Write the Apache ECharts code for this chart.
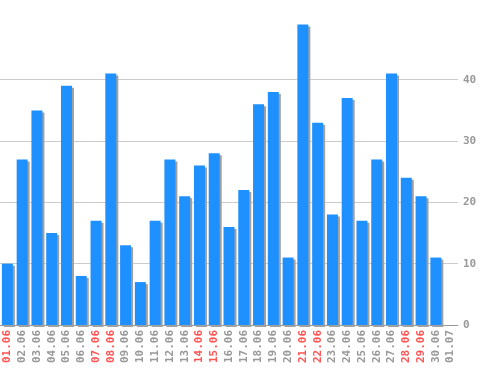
<!DOCTYPE html>
<html><head><meta charset="utf-8">
<script src="https://cdn.jsdelivr.net/npm/echarts@6/dist/echarts.min.js"></script>
<style>html,body{margin:0;padding:0;background:#fff}#c{width:498px;height:370px}</style>
</head><body><div id="c"></div>
<script>
var categories = ["01.06","02.06","03.06","04.06","05.06","06.06","07.06","08.06","09.06","10.06","11.06","12.06","13.06","14.06","15.06","16.06","17.06","18.06","19.06","20.06","21.06","22.06","23.06","24.06","25.06","26.06","27.06","28.06","29.06","30.06","01.07"];
var values = [10,27,35,15,39,8,17,41,13,7,17,27,21,26,28,16,22,36,38,11,49,33,18,37,17,27,41,24,21,11,null];
var weekendDays = ["01.06","07.06","08.06","14.06","15.06","21.06","22.06","28.06","29.06"];
var yTicks = [0,10,20,30,40];

var chart = echarts.init(document.getElementById('c'), null, {renderer:'canvas'});
chart.setOption({
  animation:false,
  backgroundColor:'#ffffff',
  grid:{left:-1,right:40,top:0,bottom:45,containLabel:false},
  xAxis:{
    type:'category', data:categories, boundaryGap:true,
    axisLine:{show:true,lineStyle:{color:'#999',width:1}},
    axisTick:{show:false},
    axisLabel:{
      rotate:90, interval:0, margin:5,
      fontFamily:'DejaVu Sans Mono', fontSize:11, fontWeight:'600',
      color:function(v){ return weekendDays.indexOf(v)>=0 ? '#ff5555' : '#999999'; }
    },
    splitLine:{show:false}
  },
  yAxis:{
    type:'value', position:'right', min:0, max:53, interval:10,
    axisLine:{show:false}, axisTick:{show:false},
    axisLabel:{
      margin:5, fontFamily:'DejaVu Sans Mono', fontSize:11, fontWeight:'600', color:'#999999',
      formatter:function(v){ return yTicks.indexOf(v)>=0 ? String(v) : ''; }
    },
    splitLine:{show:true,lineStyle:{color:['#cccccc','#cccccc','#cccccc','#cccccc','#cccccc','rgba(0,0,0,0)','rgba(0,0,0,0)'],width:1}}
  },
  series:[{
    type:'bar', data:values, barWidth:11,
    itemStyle:{color:'#1e90ff', shadowColor:'#a0a0a0', shadowBlur:0, shadowOffsetX:2, shadowOffsetY:2}
  }]
});
</script></body></html>
